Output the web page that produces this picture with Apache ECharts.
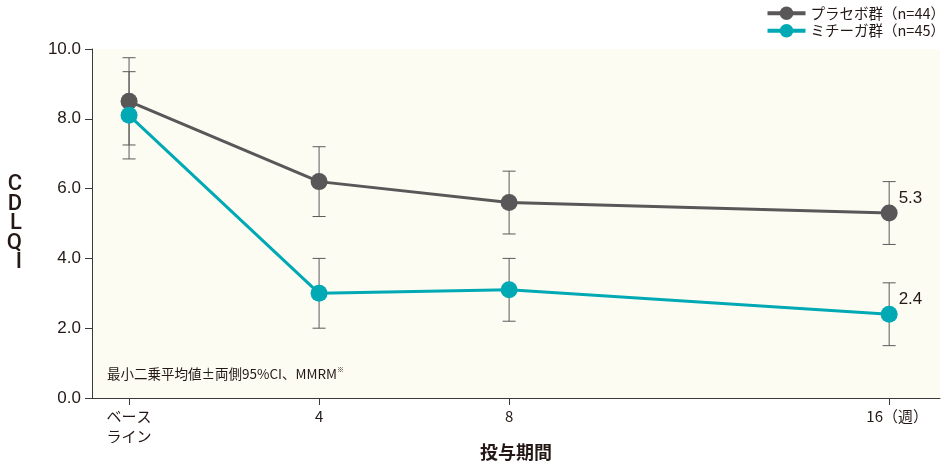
<!DOCTYPE html>
<html>
<head>
<meta charset="utf-8">
<script src="https://cdn.jsdelivr.net/npm/echarts@6/dist/echarts.min.js"></script>
<style>
html,body{margin:0;padding:0;background:#fff;}
#c{width:946px;height:464px;}
</style>
</head>
<body>
<div id="c"></div>
<script>
var weeks = [0, 4, 8, 16];
var xTickLabels = ['ベース\nライン', '4', '8', '{p|16（週）}'];
var xAxisTitle = '投与期間';
var placeboName = 'プラセボ群（n=44）';
var mitigaName = 'ミチーガ群（n=45）';
var placeboMean = [8.5, 6.2, 5.6, 5.3];
var placeboLow = [7.25, 5.2, 4.7, 4.4];
var placeboHigh = [9.75, 7.2, 6.5, 6.2];
var mitigaMean = [8.1, 3.0, 3.1, 2.4];
var mitigaLow = [6.85, 2.0, 2.2, 1.5];
var mitigaHigh = [9.35, 4.0, 4.0, 3.3];

var FONT = '"Noto Sans CJK JP", "Noto Sans", sans-serif';
var LATIN = '"Liberation Sans", Arial, sans-serif';
var GRAY = '#595757';
var TEAL = '#00A9B4';

function pts(mean) {
  return weeks.map(function (w, i) { return [w, mean[i]]; });
}
function errData(low, high) {
  return weeks.map(function (w, i) { return [w, low[i], high[i]]; });
}
function renderErr(params, api) {
  var x = api.value(0);
  var lo = api.coord([x, api.value(1)]);
  var hi = api.coord([x, api.value(2)]);
  var hw = 6.5;
  var st = { stroke: '#5a5a5a', lineWidth: 1 };
  return {
    type: 'group',
    children: [
      { type: 'line', shape: { x1: lo[0], y1: lo[1], x2: hi[0], y2: hi[1] }, style: st },
      { type: 'line', shape: { x1: lo[0] - hw, y1: lo[1], x2: lo[0] + hw, y2: lo[1] }, style: st },
      { type: 'line', shape: { x1: hi[0] - hw, y1: hi[1], x2: hi[0] + hw, y2: hi[1] }, style: st }
    ]
  };
}
function lastLabel(mean) {
  var d = pts(mean);
  var last = d.length - 1;
  return d.map(function (p, i) {
    if (i === last) {
      return { value: p, label: { show: true, position: 'right', distance: 1, offset: [0, -15],
        formatter: function (v) { return v.value[1].toFixed(1); },
        fontSize: 17, color: '#231815', fontFamily: LATIN } };
    }
    return { value: p };
  });
}

var chart = echarts.init(document.getElementById('c'), null, { renderer: 'canvas' });
chart.setOption({
  animation: false,
  backgroundColor: '#ffffff',
  textStyle: { fontFamily: FONT },
  grid: { left: 92, top: 49, right: 6, bottom: 66, show: true, backgroundColor: '#FDFCF3', borderWidth: 0,
    containLabel: false, outerBoundsMode: 'none' },
  legend: {
    orient: 'vertical', right: -4, top: 1, itemWidth: 38, itemHeight: 17, itemGap: 3,
    lineStyle: { width: 4 },
    textStyle: { fontSize: 14.5, color: '#231815', fontFamily: FONT },
    data: [placeboName, mitigaName]
  },
  xAxis: {
    type: 'value', min: -0.78, max: 17.07,
    splitLine: { show: false },
    axisLine: { show: true, onZero: false, lineStyle: { color: '#3a3a3a', width: 1 } },
    axisTick: { show: true, length: 7, customValues: weeks, lineStyle: { color: '#3a3a3a' } },
    axisLabel: {
      customValues: weeks, margin: 8, fontSize: 15, color: '#231815', lineHeight: 20, fontFamily: FONT,
      rich: { p: { fontSize: 15, color: '#231815', fontFamily: FONT, padding: [0, 0, 0, 16] } },
      formatter: function (v) { var i = weeks.indexOf(v); return i >= 0 ? xTickLabels[i] : ''; }
    }
  },
  yAxis: {
    type: 'value', min: 0, max: 10, interval: 2,
    splitLine: { show: false },
    axisLine: { show: true, onZero: false, lineStyle: { color: '#3a3a3a', width: 1 } },
    axisTick: { show: true, length: 7, lineStyle: { color: '#3a3a3a' } },
    axisLabel: { fontSize: 17, color: '#231815', margin: 11, fontFamily: LATIN,
      formatter: function (v) { return v.toFixed(1); } },
    name: 'C\nD\nL\nQ\nI', nameLocation: 'middle', nameGap: 70, nameRotate: 0, nameMoveOverlap: false,
    nameTextStyle: { fontSize: 22, fontWeight: 500, lineHeight: 19.5, color: '#231815', fontFamily: 'Roboto, "Liberation Sans", sans-serif' }
  },
  graphic: [{
    type: 'text', left: 107, top: 366,
    style: {
      text: '{a|最小二乗平均値±両側95%CI、MMRM}{s|※}',
      rich: {
        a: { fontSize: 13.5, fill: '#231815', fontFamily: FONT },
        s: { fontSize: 7, fill: '#231815', fontFamily: FONT, verticalAlign: 'top', padding: [0, 0, 8, 0] }
      }
    }
  }, {
    type: 'text', x: 516, y: 452,
    style: { text: xAxisTitle, fontSize: 18, fontWeight: 'bold', fill: '#231815', fontFamily: FONT,
      align: 'center', verticalAlign: 'middle' }
  }],
  series: [
    { type: 'custom', name: 'errP', renderItem: renderErr, data: errData(placeboLow, placeboHigh), z: 1, silent: true },
    { type: 'custom', name: 'errM', renderItem: renderErr, data: errData(mitigaLow, mitigaHigh), z: 1, silent: true },
    { type: 'line', name: placeboName, data: lastLabel(placeboMean), symbol: 'circle', symbolSize: 17,
      itemStyle: { color: GRAY }, lineStyle: { color: GRAY, width: 3 }, z: 3 },
    { type: 'line', name: mitigaName, data: lastLabel(mitigaMean), symbol: 'circle', symbolSize: 17,
      itemStyle: { color: TEAL }, lineStyle: { color: TEAL, width: 3 }, z: 4 }
  ]
});
</script>
</body>
</html>
